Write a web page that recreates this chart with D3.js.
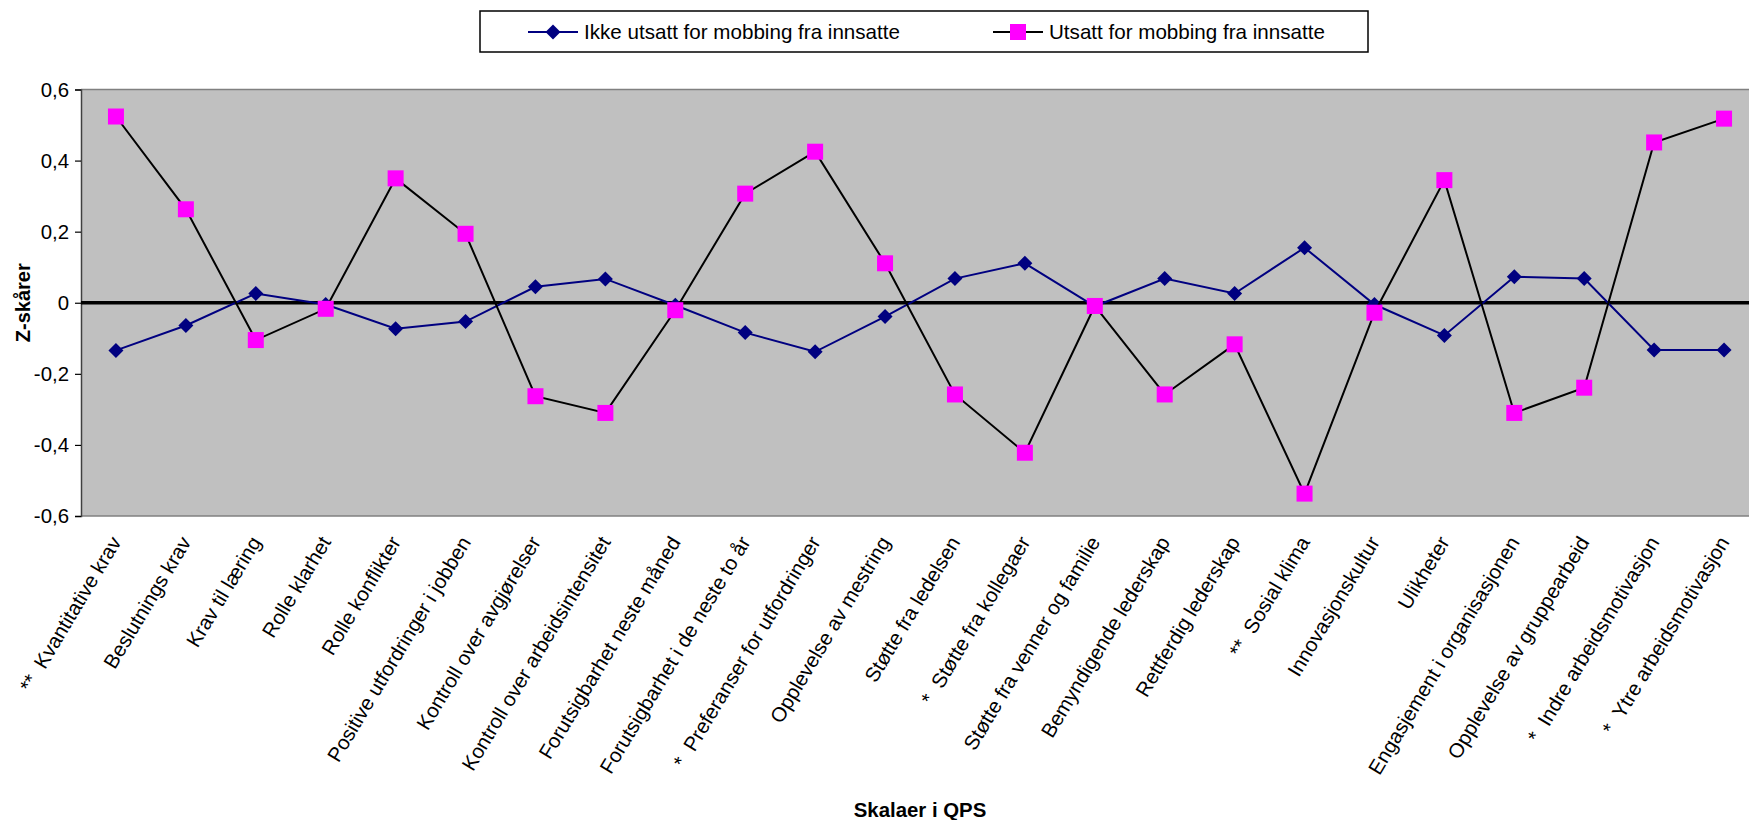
<!DOCTYPE html>
<html>
<head>
<meta charset="utf-8">
<script src="https://cdn.jsdelivr.net/npm/d3@7/dist/d3.min.js"></script>
<style>
  html, body { margin: 0; padding: 0; background: #ffffff; }
  svg { display: block; font-family: "Liberation Sans", Arial, sans-serif; }
  text { white-space: pre; }
</style>
</head>
<body>
<svg id="chart" width="1749" height="820"></svg>
<script>
// QPS scales (x axis)
const categories = [
  "**  Kvantitative krav",
  "Beslutnings krav",
  "Krav til læring",
  "Rolle klarhet",
  "Rolle konflikter",
  "Positive utfordringer i jobben",
  "Kontroll over avgjørelser",
  "Kontroll over arbeidsintensitet",
  "Forutsigbarhet neste måned",
  "Forutsigbarhet i de neste to år",
  "*  Preferanser for utfordringer",
  "Opplevelse av mestring",
  "Støtte fra ledelsen",
  "*  Støtte fra kollegaer",
  "Støtte fra venner og familie",
  "Bemyndigende lederskap",
  "Rettferdig lederskap",
  "**  Sosial klima",
  "Innovasjonskultur",
  "Ulikheter",
  "Engasjement i organisasjonen",
  "Opplevelse av gruppearbeid",
  "*  Indre arbeidsmotivasjon",
  "*  Ytre arbeidsmotivasjon"
];

// Series names
const seriesNames = [
  "Ikke utsatt for mobbing fra innsatte",
  "Utsatt for mobbing fra innsatte"
];

// Z-scores, not exposed to bullying
const ikkeUtsatt = [
  -0.134, -0.064, 0.026, -0.005, -0.073, -0.053, 0.045, 0.067,
  -0.007, -0.084, -0.138, -0.039, 0.068, 0.111, -0.010, 0.068,
  0.026, 0.155, -0.005, -0.092, 0.073, 0.068, -0.133, -0.133
];

// Z-scores, exposed to bullying
const utsatt = [
  0.524, 0.263, -0.105, -0.017, 0.350, 0.194, -0.263, -0.310,
  -0.021, 0.307, 0.425, 0.111, -0.258, -0.422, -0.009, -0.258,
  -0.117, -0.537, -0.028, 0.345, -0.310, -0.239, 0.451, 0.518
];

// Y axis ticks
const yTicks = [0.6, 0.4, 0.2, 0, -0.2, -0.4, -0.6];
const yTickLabels = ["0,6", "0,4", "0,2", "0", "-0,2", "-0,4", "-0,6"];

const yTitle = "Z-skårer";
const xTitle = "Skalaer i QPS";

const svg = d3.select("#chart");

const plot = { left: 81, top: 89.5, right: 1759, bottom: 516 };

const x = d3.scalePoint()
  .domain(d3.range(categories.length))
  .range([plot.left, plot.right])
  .padding(0.5);

const y = d3.scaleLinear()
  .domain([-0.6, 0.6])
  .range([plot.bottom, plot.top]);

// plot area background
svg.append("rect")
  .attr("x", plot.left).attr("y", plot.top)
  .attr("width", plot.right - plot.left)
  .attr("height", plot.bottom - plot.top)
  .attr("fill", "#c0c0c0");

// top and bottom borders
svg.append("line")
  .attr("x1", plot.left).attr("x2", plot.right)
  .attr("y1", plot.top).attr("y2", plot.top)
  .attr("stroke", "#808080").attr("stroke-width", 1.5);
svg.append("line")
  .attr("x1", plot.left).attr("x2", plot.right)
  .attr("y1", plot.bottom).attr("y2", plot.bottom)
  .attr("stroke", "#808080").attr("stroke-width", 1.5);

// y axis
const yAxis = d3.axisLeft(y)
  .tickValues(yTicks)
  .tickFormat((d, i) => yTickLabels[i])
  .tickSize(6)
  .tickPadding(6);

const yAxisG = svg.append("g")
  .attr("transform", `translate(${plot.left},0)`)
  .call(yAxis);
yAxisG.select(".domain").attr("stroke", "#404040").attr("stroke-width", 1.5);
yAxisG.selectAll(".tick line").attr("stroke", "#000").attr("stroke-width", 1.2);
yAxisG.selectAll(".tick text")
  .attr("font-size", 20.4)
  .attr("fill", "#000")
  .attr("font-family", "'Liberation Sans', Arial, sans-serif");

// zero line
svg.append("line")
  .attr("x1", plot.left).attr("x2", plot.right)
  .attr("y1", y(0)).attr("y2", y(0))
  .attr("stroke", "#000").attr("stroke-width", 3.5);

// x category labels
svg.append("g")
  .selectAll("text")
  .data(categories)
  .join("text")
  .attr("transform", (d, i) => `translate(${x(i) + 6},${plot.bottom + 26}) rotate(-59)`)
  .attr("text-anchor", "end")
  .attr("font-size", 20.4)
  .attr("fill", "#000")
  .text(d => d);

// axis titles
svg.append("text")
  .attr("transform", `translate(30,${y(0)}) rotate(-90)`)
  .attr("text-anchor", "middle")
  .attr("font-size", 20)
  .attr("font-weight", "bold")
  .text(yTitle);

svg.append("text")
  .attr("x", (plot.left + plot.right) / 2)
  .attr("y", 817)
  .attr("text-anchor", "middle")
  .attr("font-size", 20.4)
  .attr("font-weight", "bold")
  .text(xTitle);

// series
const line = d3.line()
  .x((d, i) => x(i))
  .y(d => y(d));

const diamond = s => `M0,${-s}L${s},0L0,${s}L${-s},0Z`;

// series 1: navy line with diamonds
svg.append("path")
  .datum(ikkeUtsatt)
  .attr("d", line)
  .attr("fill", "none")
  .attr("stroke", "#000080")
  .attr("stroke-width", 2);

svg.append("g")
  .selectAll("path")
  .data(ikkeUtsatt)
  .join("path")
  .attr("transform", (d, i) => `translate(${x(i)},${y(d)})`)
  .attr("d", diamond(7.5))
  .attr("fill", "#000080");

// series 2: black line with magenta squares
svg.append("path")
  .datum(utsatt)
  .attr("d", line)
  .attr("fill", "none")
  .attr("stroke", "#000")
  .attr("stroke-width", 2);

const sq = 16;
svg.append("g")
  .selectAll("rect")
  .data(utsatt)
  .join("rect")
  .attr("x", (d, i) => x(i) - sq / 2)
  .attr("y", d => y(d) - sq / 2)
  .attr("width", sq)
  .attr("height", sq)
  .attr("fill", "#ff00ff");

// legend
const legend = svg.append("g");
legend.append("rect")
  .attr("x", 480).attr("y", 11)
  .attr("width", 888).attr("height", 41)
  .attr("fill", "#fff")
  .attr("stroke", "#000").attr("stroke-width", 1.5);

const legendItems = [
  { x: 528, name: seriesNames[0], stroke: "#000080", marker: "diamond" },
  { x: 993, name: seriesNames[1], stroke: "#000", marker: "square" }
];
const ly = 32;
legendItems.forEach(it => {
  legend.append("line")
    .attr("x1", it.x).attr("x2", it.x + 50)
    .attr("y1", ly).attr("y2", ly)
    .attr("stroke", it.stroke).attr("stroke-width", 2);
  if (it.marker === "diamond") {
    legend.append("path")
      .attr("transform", `translate(${it.x + 25},${ly})`)
      .attr("d", diamond(7.5))
      .attr("fill", "#000080");
  } else {
    legend.append("rect")
      .attr("x", it.x + 25 - sq / 2).attr("y", ly - sq / 2)
      .attr("width", sq).attr("height", sq)
      .attr("fill", "#ff00ff");
  }
  legend.append("text")
    .attr("x", it.x + 56)
    .attr("y", ly + 7)
    .attr("font-size", 20.6)
    .attr("fill", "#000")
    .text(it.name);
});
</script>
</body>
</html>
